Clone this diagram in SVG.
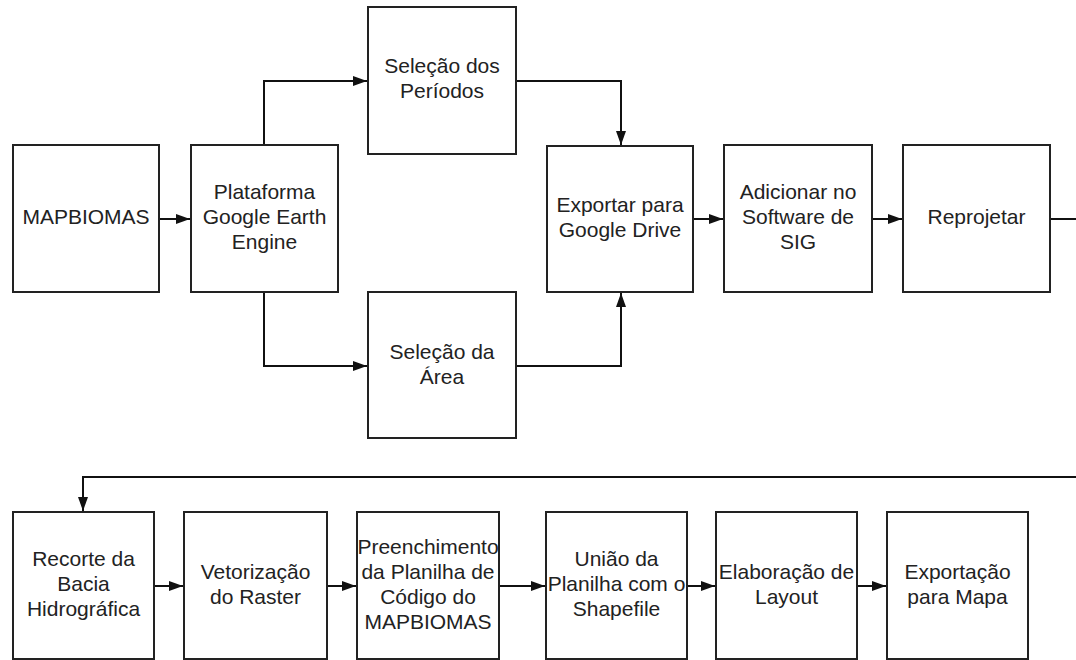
<svg xmlns="http://www.w3.org/2000/svg" width="1076" height="660" viewBox="0 0 1076 660">
<style>
  .box { fill: #ffffff; stroke: #222222; stroke-width: 2; }
  .lbl { font-family: "Liberation Sans", Arial, sans-serif; font-size: 21px; fill: #222222; text-anchor: middle; }
  .con { fill: none; stroke: #111111; stroke-width: 2; }
</style>
<defs>
  <marker id="arr" markerUnits="userSpaceOnUse" markerWidth="15" markerHeight="11" refX="14" refY="5" orient="auto">
    <path d="M0,0 L14,5 L0,10 z" fill="#111111"/>
  </marker>
</defs>
<rect width="1076" height="660" fill="#ffffff"/>

<g id="connectors">
  <path class="con" d="M159,219 H190" marker-end="url(#arr)"/>
  <path class="con" d="M264,145 V81 H367" marker-end="url(#arr)"/>
  <path class="con" d="M264,292 V366 H367" marker-end="url(#arr)"/>
  <path class="con" d="M516,81 H621 V145" marker-end="url(#arr)"/>
  <path class="con" d="M516,366 H621 V293" marker-end="url(#arr)"/>
  <path class="con" d="M693,219 H723" marker-end="url(#arr)"/>
  <path class="con" d="M872,219 H902" marker-end="url(#arr)"/>
  <path class="con" d="M1050,219 H1090 V477 H83 V511" marker-end="url(#arr)"/>
  <path class="con" d="M154,586 H183" marker-end="url(#arr)"/>
  <path class="con" d="M327,586 H356" marker-end="url(#arr)"/>
  <path class="con" d="M499,586 H545" marker-end="url(#arr)"/>
  <path class="con" d="M687,586 H715" marker-end="url(#arr)"/>
  <path class="con" d="M857,586 H886" marker-end="url(#arr)"/>
</g>

<g id="n-mapbiomas">
  <rect class="box" x="13" y="145" width="146" height="147"/>
  <text class="lbl" x="86" y="224">MAPBIOMAS</text>
</g>
<g id="n-gee">
  <rect class="box" x="191" y="145" width="147" height="147"/>
  <text class="lbl" x="264.5" y="199">Plataforma</text>
  <text class="lbl" x="264.5" y="224">Google Earth</text>
  <text class="lbl" x="264.5" y="249">Engine</text>
</g>
<g id="n-periodos">
  <rect class="box" x="368" y="7" width="148" height="147"/>
  <text class="lbl" x="442" y="73">Seleção dos</text>
  <text class="lbl" x="442" y="98">Períodos</text>
</g>
<g id="n-area">
  <rect class="box" x="368" y="292" width="148" height="146"/>
  <text class="lbl" x="442" y="359">Seleção da</text>
  <text class="lbl" x="442" y="384">Área</text>
</g>
<g id="n-drive">
  <rect class="box" x="547" y="146" width="146" height="146"/>
  <text class="lbl" x="620" y="212">Exportar para</text>
  <text class="lbl" x="620" y="237">Google Drive</text>
</g>
<g id="n-sig">
  <rect class="box" x="724" y="145" width="148" height="147"/>
  <text class="lbl" x="798" y="199">Adicionar no</text>
  <text class="lbl" x="798" y="224">Software de</text>
  <text class="lbl" x="798" y="249">SIG</text>
</g>
<g id="n-reprojetar">
  <rect class="box" x="903" y="145" width="147" height="147"/>
  <text class="lbl" x="976.5" y="224">Reprojetar</text>
</g>

<g id="n-recorte">
  <rect class="box" x="13" y="512" width="141" height="147"/>
  <text class="lbl" x="83.5" y="566">Recorte da</text>
  <text class="lbl" x="83.5" y="591">Bacia</text>
  <text class="lbl" x="83.5" y="616">Hidrográfica</text>
</g>
<g id="n-vetorizacao">
  <rect class="box" x="184" y="512" width="143" height="147"/>
  <text class="lbl" x="255.5" y="579">Vetorização</text>
  <text class="lbl" x="255.5" y="604">do Raster</text>
</g>
<g id="n-preenchimento">
  <rect class="box" x="357" y="512" width="142" height="147"/>
  <text class="lbl" x="428" y="554">Preenchimento</text>
  <text class="lbl" x="428" y="579">da Planilha de</text>
  <text class="lbl" x="428" y="604">Código do</text>
  <text class="lbl" x="428" y="629">MAPBIOMAS</text>
</g>
<g id="n-uniao">
  <rect class="box" x="546" y="512" width="141" height="147"/>
  <text class="lbl" x="616.5" y="566">União da</text>
  <text class="lbl" x="616.5" y="591">Planilha com o</text>
  <text class="lbl" x="616.5" y="616">Shapefile</text>
</g>
<g id="n-layout">
  <rect class="box" x="716" y="512" width="141" height="147"/>
  <text class="lbl" x="786.5" y="579">Elaboração de</text>
  <text class="lbl" x="786.5" y="604">Layout</text>
</g>
<g id="n-mapa">
  <rect class="box" x="887" y="512" width="141" height="147"/>
  <text class="lbl" x="957.5" y="579">Exportação</text>
  <text class="lbl" x="957.5" y="604">para Mapa</text>
</g>
</svg>
